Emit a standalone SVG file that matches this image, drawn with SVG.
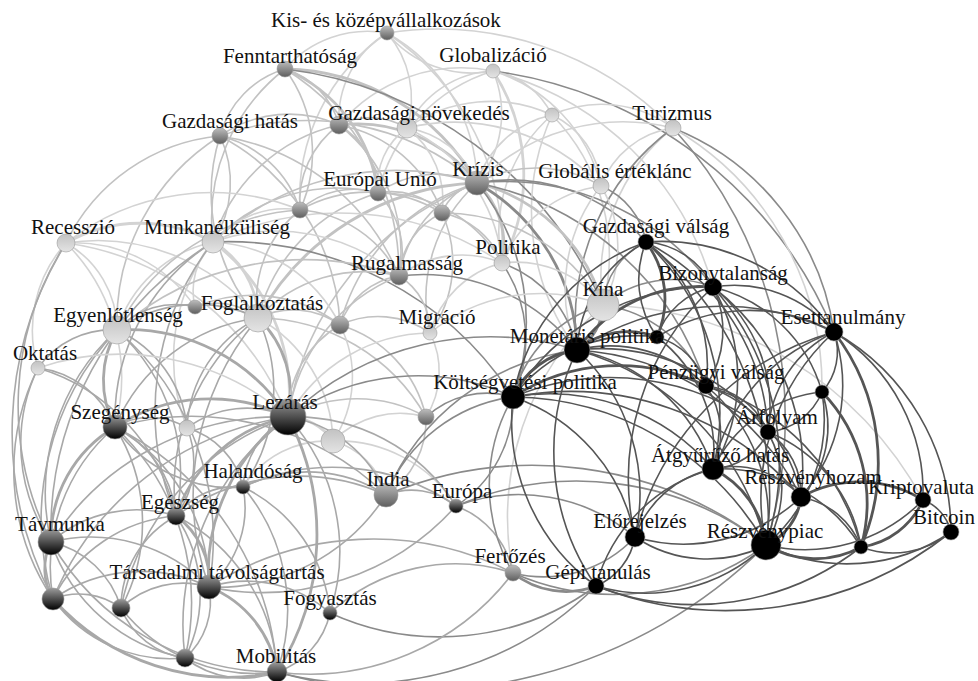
<svg xmlns="http://www.w3.org/2000/svg" width="978" height="681" viewBox="0 0 978 681">
<style>
.e path{fill:none;stroke-width:1.6}
.a{stroke:#d3d3d3}
.b{stroke:#c2c2c2}
.c{stroke:#a8a8a8}
.x{stroke:#8a8a8a}
.d{stroke:#555}
.t{stroke-width:2.8!important}
.n circle{stroke:#9a9a9a;stroke-width:0.6}
.lt{fill:url(#gl)}
.md{fill:url(#gm)}
.dk{fill:url(#gd)}
.bk{fill:#000}
text{font-family:"Liberation Serif","Times New Roman",serif;font-size:21px;fill:#111;text-anchor:middle}
</style>
<defs>
<linearGradient id="gl" x1="0" y1="0" x2="0" y2="1"><stop offset="0" stop-color="#c2c2c2"/><stop offset="1" stop-color="#e4e4e4"/></linearGradient>
<linearGradient id="gm" x1="0" y1="0" x2="0" y2="1"><stop offset="0" stop-color="#bdbdbd"/><stop offset="1" stop-color="#5e5e5e"/></linearGradient>
<linearGradient id="gd" x1="0" y1="0" x2="0" y2="1"><stop offset="0" stop-color="#9c9c9c"/><stop offset="1" stop-color="#000"/></linearGradient>
</defs>
<rect width="978" height="681" fill="#fff"/>
<g id="connectors" class="e">
<path class="a" d="M493 71A110 110 0 0 1 387 33"/>
<path class="a" d="M493 71A160 160 0 0 0 339 125"/>
<path class="a" d="M493 71A110 110 0 0 1 477 183"/>
<path class="a" d="M493 71A100 100 0 0 0 407 128"/>
<path class="a" d="M493 71A80 80 0 0 1 552 115"/>
<path class="a" d="M493 71A170 170 0 0 0 378 193"/>
<path class="a t" d="M493 71A190 190 0 0 1 502 263"/>
<path class="a" d="M493 71A160 160 0 0 1 601 186"/>
<path class="x" d="M493 71A430 430 0 0 1 834 332"/>
<path class="a" d="M493 71A310 310 0 0 1 713 287"/>
<path class="a" d="M387 33A110 110 0 0 0 285 69"/>
<path class="a" d="M387 33A100 100 0 0 1 407 128"/>
<path class="a" d="M387 33A175 175 0 0 1 477 183"/>
<path class="a" d="M387 33A100 100 0 0 0 339 125"/>
<path class="a" d="M387 33A200 200 0 0 0 300 210"/>
<path class="a" d="M387 33A260 260 0 0 1 502 263"/>
<path class="a" d="M387 33A330 330 0 0 1 673 128"/>
<path class="b" d="M285 69A95 95 0 0 0 220 136"/>
<path class="b" d="M285 69A80 80 0 0 1 339 125"/>
<path class="b t" d="M285 69A155 155 0 0 1 378 193"/>
<path class="b t" d="M285 69A225 225 0 0 1 477 183"/>
<path class="b" d="M285 69A190 190 0 0 0 213 242"/>
<path class="b" d="M285 69A140 140 0 0 1 300 210"/>
<path class="b" d="M285 69A240 240 0 0 1 399 276"/>
<path class="x" d="M285 69A400 400 0 0 1 603 305"/>
<path class="b" d="M220 136A120 120 0 0 1 339 125"/>
<path class="b" d="M220 136A110 110 0 0 1 213 242"/>
<path class="b" d="M220 136A110 110 0 0 1 300 210"/>
<path class="b" d="M220 136A230 230 0 0 1 399 276"/>
<path class="b" d="M220 136A190 190 0 0 0 258 318"/>
<path class="b" d="M220 136A220 220 0 0 0 117 330"/>
<path class="b" d="M220 136A260 260 0 0 1 477 183"/>
<path class="b" d="M220 136A225 225 0 0 1 340 325"/>
<path class="b" d="M220 136A190 190 0 0 0 66 243"/>
<path class="b" d="M339 125A80 80 0 0 1 378 193"/>
<path class="b t" d="M339 125A150 150 0 0 1 477 183"/>
<path class="b" d="M339 125A70 70 0 0 1 407 128"/>
<path class="b" d="M339 125A95 95 0 0 0 300 210"/>
<path class="b" d="M339 125A135 135 0 0 1 442 213"/>
<path class="b" d="M339 125A170 170 0 0 0 213 242"/>
<path class="b" d="M339 125A160 160 0 0 1 399 276"/>
<path class="a" d="M407 128A90 90 0 0 1 477 183"/>
<path class="a" d="M407 128A70 70 0 0 0 378 193"/>
<path class="a" d="M407 128A145 145 0 0 1 552 115"/>
<path class="a" d="M407 128A165 165 0 0 1 502 263"/>
<path class="a" d="M407 128A90 90 0 0 1 442 213"/>
<path class="a" d="M407 128A200 200 0 0 1 601 186"/>
<path class="a" d="M552 115A120 120 0 0 1 673 128"/>
<path class="a" d="M552 115A100 100 0 0 0 477 183"/>
<path class="a" d="M552 115A85 85 0 0 1 601 186"/>
<path class="a" d="M552 115A155 155 0 0 0 502 263"/>
<path class="a" d="M552 115A200 200 0 0 1 603 305"/>
<path class="a" d="M552 115A235 235 0 0 0 577 350"/>
<path class="a" d="M673 128A90 90 0 0 0 601 186"/>
<path class="a" d="M673 128A205 205 0 0 0 477 183"/>
<path class="a" d="M673 128A190 190 0 0 0 603 305"/>
<path class="x" d="M673 128A240 240 0 0 0 577 350"/>
<path class="x" d="M673 128A260 260 0 0 1 834 332"/>
<path class="x" d="M673 128A430 430 0 0 1 766 545"/>
<path class="a" d="M673 128A300 300 0 0 1 822 392"/>
<path class="b" d="M378 193A100 100 0 0 1 477 183"/>
<path class="b" d="M378 193A80 80 0 0 0 300 210"/>
<path class="b" d="M378 193A70 70 0 0 1 442 213"/>
<path class="b" d="M378 193A85 85 0 0 1 399 276"/>
<path class="b" d="M378 193A170 170 0 0 0 213 242"/>
<path class="b" d="M378 193A140 140 0 0 1 502 263"/>
<path class="b" d="M378 193A175 175 0 0 0 258 318"/>
<path class="b" d="M477 183A50 50 0 0 0 442 213"/>
<path class="b" d="M477 183A125 125 0 0 1 601 186"/>
<path class="b t" d="M477 183A85 85 0 0 1 502 263"/>
<path class="b t" d="M477 183A175 175 0 0 1 603 305"/>
<path class="b" d="M477 183A120 120 0 0 0 399 276"/>
<path class="b" d="M477 183A270 270 0 0 0 213 242"/>
<path class="b t" d="M477 183A260 260 0 0 0 258 318"/>
<path class="b" d="M477 183A200 200 0 0 0 340 325"/>
<path class="b" d="M477 183A155 155 0 0 0 430 333"/>
<path class="x" d="M477 183A180 180 0 0 1 646 242"/>
<path class="x" d="M477 183A260 260 0 0 1 713 287"/>
<path class="x t" d="M477 183A195 195 0 0 1 577 350"/>
<path class="x" d="M477 183A220 220 0 0 1 513 397"/>
<path class="b" d="M477 183A300 300 0 0 0 288 417"/>
<path class="x" d="M477 183A300 300 0 0 1 706 386"/>
<path class="a" d="M601 186A120 120 0 0 1 603 305"/>
<path class="a" d="M601 186A125 125 0 0 0 502 263"/>
<path class="x" d="M601 186A75 75 0 0 1 646 242"/>
<path class="a" d="M601 186A165 165 0 0 0 577 350"/>
<path class="a t" d="M66 243A150 150 0 0 1 213 242"/>
<path class="a" d="M66 243A100 100 0 0 1 117 330"/>
<path class="a" d="M66 243A130 130 0 0 0 38 368"/>
<path class="a" d="M66 243A190 190 0 0 1 115 427"/>
<path class="c" d="M66 243A300 300 0 0 0 51 542"/>
<path class="a" d="M66 243A205 205 0 0 1 258 318"/>
<path class="a" d="M66 243A145 145 0 0 1 195 307"/>
<path class="c" d="M66 243A360 360 0 0 0 53 599"/>
<path class="a" d="M66 243A235 235 0 0 1 300 210"/>
<path class="a" d="M66 243A280 280 0 0 1 288 417"/>
<path class="a" d="M213 242A130 130 0 0 0 117 330"/>
<path class="a t" d="M213 242A90 90 0 0 1 258 318"/>
<path class="a" d="M213 242A95 95 0 0 1 300 210"/>
<path class="a" d="M213 242A190 190 0 0 1 399 276"/>
<path class="a" d="M213 242A70 70 0 0 0 195 307"/>
<path class="c" d="M213 242A210 210 0 0 0 115 427"/>
<path class="a t" d="M213 242A190 190 0 0 1 288 417"/>
<path class="a" d="M213 242A190 190 0 0 0 187 428"/>
<path class="a" d="M213 242A150 150 0 0 1 340 325"/>
<path class="c" d="M213 242A275 275 0 0 0 176 516"/>
<path class="c" d="M213 242A340 340 0 0 0 51 542"/>
<path class="a" d="M213 242A290 290 0 0 1 502 263"/>
<path class="x" d="M213 242A340 340 0 0 1 513 397"/>
<path class="b" d="M300 210A140 140 0 0 1 442 213"/>
<path class="b" d="M300 210A120 120 0 0 1 399 276"/>
<path class="b" d="M300 210A115 115 0 0 0 258 318"/>
<path class="b" d="M300 210A220 220 0 0 0 117 330"/>
<path class="b" d="M442 213A80 80 0 0 1 502 263"/>
<path class="b" d="M442 213A75 75 0 0 0 399 276"/>
<path class="b" d="M442 213A120 120 0 0 1 430 333"/>
<path class="b" d="M442 213A185 185 0 0 1 603 305"/>
<path class="a" d="M502 263A105 105 0 0 0 399 276"/>
<path class="a" d="M502 263A110 110 0 0 1 603 305"/>
<path class="a" d="M502 263A100 100 0 0 0 430 333"/>
<path class="x" d="M502 263A115 115 0 0 1 577 350"/>
<path class="x" d="M502 263A135 135 0 0 1 513 397"/>
<path class="b" d="M399 276A145 145 0 0 0 258 318"/>
<path class="b" d="M399 276A65 65 0 0 1 430 333"/>
<path class="b" d="M399 276A75 75 0 0 0 340 325"/>
<path class="b" d="M399 276A180 180 0 0 0 288 417"/>
<path class="x" d="M399 276A195 195 0 0 1 577 350"/>
<path class="b" d="M399 276A285 285 0 0 0 117 330"/>
<path class="x t" d="M603 305A55 55 0 0 1 577 350"/>
<path class="x" d="M603 305A75 75 0 0 1 646 242"/>
<path class="x" d="M603 305A110 110 0 0 1 713 287"/>
<path class="a" d="M603 305A175 175 0 0 0 430 333"/>
<path class="x" d="M603 305A130 130 0 0 0 513 397"/>
<path class="x" d="M603 305A130 130 0 0 1 706 386"/>
<path class="a" d="M603 305A375 375 0 0 1 923 500"/>
<path class="a" d="M603 305A285 285 0 0 0 513 573"/>
<path class="c" d="M117 330A140 140 0 0 1 258 318"/>
<path class="c" d="M117 330A90 90 0 0 0 38 368"/>
<path class="c t" d="M117 330A100 100 0 0 0 115 427"/>
<path class="c t" d="M117 330A190 190 0 0 1 288 417"/>
<path class="c" d="M117 330A120 120 0 0 1 187 428"/>
<path class="c" d="M117 330A80 80 0 0 1 195 307"/>
<path class="c" d="M117 330A220 220 0 0 0 51 542"/>
<path class="c" d="M117 330A195 195 0 0 1 176 516"/>
<path class="c" d="M117 330A275 275 0 0 0 53 599"/>
<path class="c" d="M117 330A275 275 0 0 1 209 587"/>
<path class="b" d="M258 318A65 65 0 0 0 195 307"/>
<path class="b" d="M258 318A80 80 0 0 1 340 325"/>
<path class="c t" d="M258 318A105 105 0 0 1 288 417"/>
<path class="c" d="M258 318A130 130 0 0 0 187 428"/>
<path class="a" d="M258 318A145 145 0 0 1 333 441"/>
<path class="c" d="M258 318A180 180 0 0 0 115 427"/>
<path class="b" d="M258 318A195 195 0 0 1 426 417"/>
<path class="c" d="M258 318A215 215 0 0 0 176 516"/>
<path class="c" d="M258 318A170 170 0 0 1 243 487"/>
<path class="c" d="M258 318A275 275 0 0 0 209 587"/>
<path class="b" d="M195 307A145 145 0 0 1 340 325"/>
<path class="b" d="M340 325A90 90 0 0 1 430 333"/>
<path class="b" d="M340 325A105 105 0 0 0 288 417"/>
<path class="a" d="M340 325A115 115 0 0 1 333 441"/>
<path class="b" d="M340 325A125 125 0 0 1 426 417"/>
<path class="a" d="M430 333A85 85 0 0 1 426 417"/>
<path class="a" d="M430 333A165 165 0 0 0 288 417"/>
<path class="c" d="M38 368A95 95 0 0 1 115 427"/>
<path class="c" d="M38 368A175 175 0 0 0 51 542"/>
<path class="c" d="M38 368A230 230 0 0 0 53 599"/>
<path class="a" d="M38 368A255 255 0 0 1 288 417"/>
<path class="c" d="M38 368A200 200 0 0 1 176 516"/>
<path class="a t" d="M333 441A55 55 0 0 0 288 417"/>
<path class="a" d="M333 441A95 95 0 0 1 426 417"/>
<path class="a" d="M333 441A75 75 0 0 1 386 495"/>
<path class="a" d="M333 441A140 140 0 0 1 456 506"/>
<path class="a" d="M333 441A100 100 0 0 0 243 487"/>
<path class="c" d="M187 428A100 100 0 0 1 288 417"/>
<path class="c" d="M187 428A70 70 0 0 0 115 427"/>
<path class="c" d="M187 428A90 90 0 0 1 176 516"/>
<path class="c" d="M187 428A80 80 0 0 1 243 487"/>
<path class="b" d="M426 417A140 140 0 0 0 288 417"/>
<path class="b" d="M426 417A90 90 0 0 1 386 495"/>
<path class="x" d="M426 417A90 90 0 0 1 513 397"/>
<path class="c" d="M386 495A125 125 0 0 0 288 417"/>
<path class="c" d="M386 495A70 70 0 0 1 456 506"/>
<path class="c" d="M386 495A145 145 0 0 0 243 487"/>
<path class="c" d="M386 495A210 210 0 0 0 176 516"/>
<path class="c" d="M386 495A200 200 0 0 1 209 587"/>
<path class="x" d="M386 495A160 160 0 0 1 513 397"/>
<path class="x" d="M386 495A240 240 0 0 1 577 350"/>
<path class="x" d="M386 495A380 380 0 0 1 766 545"/>
<path class="c" d="M386 495A280 280 0 0 0 115 427"/>
<path class="c t" d="M288 417A175 175 0 0 0 115 427"/>
<path class="c" d="M288 417A85 85 0 0 0 243 487"/>
<path class="c" d="M288 417A190 190 0 0 1 456 506"/>
<path class="c t" d="M288 417A150 150 0 0 0 176 516"/>
<path class="c" d="M288 417A270 270 0 0 0 51 542"/>
<path class="c t" d="M288 417A190 190 0 0 0 209 587"/>
<path class="c" d="M288 417A300 300 0 0 0 53 599"/>
<path class="c" d="M288 417A255 255 0 0 0 121 608"/>
<path class="c" d="M288 417A200 200 0 0 1 330 613"/>
<path class="c" d="M288 417A260 260 0 0 0 185 658"/>
<path class="c t" d="M288 417A255 255 0 0 1 277 672"/>
<path class="x" d="M288 417A225 225 0 0 1 513 397"/>
<path class="x" d="M288 417A295 295 0 0 1 577 350"/>
<path class="c" d="M115 427A140 140 0 0 0 243 487"/>
<path class="c" d="M115 427A110 110 0 0 1 176 516"/>
<path class="c t" d="M115 427A130 130 0 0 0 51 542"/>
<path class="c" d="M115 427A185 185 0 0 1 209 587"/>
<path class="c" d="M115 427A185 185 0 0 0 53 599"/>
<path class="c" d="M115 427A180 180 0 0 1 121 608"/>
<path class="c" d="M115 427A240 240 0 0 1 185 658"/>
<path class="c" d="M115 427A295 295 0 0 1 277 672"/>
<path class="c" d="M243 487A75 75 0 0 0 176 516"/>
<path class="c" d="M243 487A105 105 0 0 1 209 587"/>
<path class="c" d="M243 487A215 215 0 0 1 456 506"/>
<path class="c" d="M243 487A190 190 0 0 1 277 672"/>
<path class="c" d="M243 487A155 155 0 0 1 330 613"/>
<path class="c" d="M456 506A90 90 0 0 1 513 573"/>
<path class="x" d="M456 506A125 125 0 0 0 513 397"/>
<path class="c" d="M456 506A260 260 0 0 1 209 587"/>
<path class="x" d="M456 506A310 310 0 0 1 766 545"/>
<path class="x" d="M456 506A180 180 0 0 1 635 537"/>
<path class="c" d="M176 516A130 130 0 0 0 51 542"/>
<path class="c t" d="M176 516A80 80 0 0 1 209 587"/>
<path class="c" d="M176 516A150 150 0 0 0 53 599"/>
<path class="c" d="M176 516A105 105 0 0 0 121 608"/>
<path class="c" d="M176 516A140 140 0 0 1 185 658"/>
<path class="c" d="M176 516A185 185 0 0 1 277 672"/>
<path class="c" d="M51 542A165 165 0 0 1 209 587"/>
<path class="c t" d="M51 542A60 60 0 0 0 53 599"/>
<path class="c" d="M51 542A95 95 0 0 1 121 608"/>
<path class="c" d="M51 542A175 175 0 0 0 185 658"/>
<path class="c" d="M51 542A260 260 0 0 0 277 672"/>
<path class="c" d="M209 587A155 155 0 0 0 53 599"/>
<path class="c" d="M209 587A90 90 0 0 0 121 608"/>
<path class="c" d="M209 587A125 125 0 0 1 330 613"/>
<path class="c" d="M209 587A75 75 0 0 1 185 658"/>
<path class="c t" d="M209 587A110 110 0 0 1 277 672"/>
<path class="c" d="M209 587A305 305 0 0 1 513 573"/>
<path class="c" d="M53 599A70 70 0 0 1 121 608"/>
<path class="c" d="M53 599A145 145 0 0 0 185 658"/>
<path class="c t" d="M53 599A235 235 0 0 0 277 672"/>
<path class="c" d="M121 608A80 80 0 0 0 185 658"/>
<path class="c" d="M121 608A170 170 0 0 0 277 672"/>
<path class="c" d="M330 613A80 80 0 0 1 277 672"/>
<path class="c" d="M330 613A185 185 0 0 1 513 573"/>
<path class="x" d="M330 613A265 265 0 0 0 596 586"/>
<path class="c" d="M185 658A95 95 0 0 0 277 672"/>
<path class="x" d="M277 672A330 330 0 0 0 596 586"/>
<path class="c" d="M277 672A255 255 0 0 0 513 573"/>
<path class="x" d="M277 672A500 500 0 0 0 766 545"/>
<path class="x" d="M513 573A255 255 0 0 0 766 545"/>
<path class="x" d="M513 573A175 175 0 0 1 513 397"/>
<path class="x" d="M513 573A125 125 0 0 0 635 537"/>
<path class="x t" d="M513 573A85 85 0 0 0 596 586"/>
<path class="d" d="M646 242A80 80 0 0 1 713 287"/>
<path class="d" d="M646 242A130 130 0 0 0 577 350"/>
<path class="d t" d="M646 242A95 95 0 0 1 657 337"/>
<path class="d" d="M646 242A100 100 0 0 0 657 337"/>
<path class="d" d="M646 242A205 205 0 0 0 513 397"/>
<path class="d" d="M646 242A155 155 0 0 1 706 386"/>
<path class="d" d="M646 242A235 235 0 0 1 713 469"/>
<path class="d" d="M646 242A325 325 0 0 1 766 545"/>
<path class="d" d="M646 242A210 210 0 0 1 834 332"/>
<path class="d" d="M646 242A225 225 0 0 1 768 432"/>
<path class="d" d="M713 287A130 130 0 0 1 834 332"/>
<path class="d t" d="M713 287A150 150 0 0 0 577 350"/>
<path class="d" d="M713 287A75 75 0 0 0 657 337"/>
<path class="d" d="M713 287A230 230 0 0 0 513 397"/>
<path class="d" d="M713 287A100 100 0 0 1 706 386"/>
<path class="d" d="M713 287A155 155 0 0 1 768 432"/>
<path class="d" d="M713 287A180 180 0 0 1 713 469"/>
<path class="d" d="M713 287A230 230 0 0 1 801 497"/>
<path class="d" d="M713 287A265 265 0 0 1 766 545"/>
<path class="d" d="M713 287A260 260 0 0 0 635 537"/>
<path class="d" d="M713 287A150 150 0 0 1 822 392"/>
<path class="d" d="M834 332A60 60 0 0 1 822 392"/>
<path class="d" d="M834 332A120 120 0 0 0 768 432"/>
<path class="d" d="M834 332A185 185 0 0 0 713 469"/>
<path class="d" d="M834 332A170 170 0 0 1 801 497"/>
<path class="d" d="M834 332A225 225 0 0 0 766 545"/>
<path class="d t" d="M834 332A215 215 0 0 1 861 547"/>
<path class="d" d="M834 332A190 190 0 0 1 923 500"/>
<path class="d" d="M834 332A230 230 0 0 1 951 532"/>
<path class="d" d="M834 332A175 175 0 0 0 657 337"/>
<path class="d" d="M834 332A285 285 0 0 0 635 537"/>
<path class="d" d="M834 332A260 260 0 0 0 577 350"/>
<path class="d t" d="M577 350A80 80 0 0 1 657 337"/>
<path class="d t" d="M577 350A80 80 0 0 0 513 397"/>
<path class="d" d="M577 350A135 135 0 0 1 706 386"/>
<path class="d" d="M577 350A210 210 0 0 1 768 432"/>
<path class="d" d="M577 350A180 180 0 0 1 713 469"/>
<path class="d" d="M577 350A270 270 0 0 1 766 545"/>
<path class="d" d="M577 350A195 195 0 0 1 635 537"/>
<path class="d" d="M577 350A270 270 0 0 1 801 497"/>
<path class="d" d="M577 350A235 235 0 0 0 596 586"/>
<path class="d" d="M657 337A155 155 0 0 0 513 397"/>
<path class="d" d="M657 337A70 70 0 0 1 706 386"/>
<path class="d" d="M657 337A145 145 0 0 1 713 469"/>
<path class="d t" d="M513 397A195 195 0 0 1 706 386"/>
<path class="d" d="M513 397A215 215 0 0 1 713 469"/>
<path class="d" d="M513 397A295 295 0 0 1 766 545"/>
<path class="d" d="M513 397A185 185 0 0 1 635 537"/>
<path class="d" d="M513 397A205 205 0 0 0 596 586"/>
<path class="d" d="M513 397A255 255 0 0 1 768 432"/>
<path class="d" d="M513 397A305 305 0 0 1 801 497"/>
<path class="d" d="M706 386A75 75 0 0 1 768 432"/>
<path class="d" d="M706 386A85 85 0 0 1 713 469"/>
<path class="d" d="M706 386A170 170 0 0 1 766 545"/>
<path class="d" d="M706 386A145 145 0 0 1 801 497"/>
<path class="d" d="M706 386A225 225 0 0 1 861 547"/>
<path class="d" d="M822 392A65 65 0 0 1 768 432"/>
<path class="d" d="M822 392A105 105 0 0 1 801 497"/>
<path class="d t" d="M822 392A160 160 0 0 1 861 547"/>
<path class="d" d="M822 392A165 165 0 0 1 766 545"/>
<path class="d" d="M822 392A135 135 0 0 0 713 469"/>
<path class="d" d="M768 432A65 65 0 0 1 713 469"/>
<path class="d" d="M768 432A75 75 0 0 1 801 497"/>
<path class="d" d="M768 432A115 115 0 0 1 766 545"/>
<path class="d" d="M768 432A150 150 0 0 1 861 547"/>
<path class="d t" d="M713 469A95 95 0 0 1 766 545"/>
<path class="d" d="M713 469A105 105 0 0 0 635 537"/>
<path class="d" d="M713 469A165 165 0 0 0 596 586"/>
<path class="d" d="M713 469A90 90 0 0 1 801 497"/>
<path class="d" d="M713 469A165 165 0 0 1 861 547"/>
<path class="d" d="M801 497A80 80 0 0 1 861 547"/>
<path class="d t" d="M801 497A60 60 0 0 1 766 545"/>
<path class="d t" d="M801 497A120 120 0 0 1 923 500"/>
<path class="d" d="M923 500A45 45 0 0 1 951 532"/>
<path class="d t" d="M923 500A80 80 0 0 1 861 547"/>
<path class="d" d="M923 500A165 165 0 0 1 766 545"/>
<path class="d" d="M951 532A90 90 0 0 1 861 547"/>
<path class="d" d="M951 532A185 185 0 0 1 766 545"/>
<path class="d" d="M951 532A360 360 0 0 1 596 586"/>
<path class="d t" d="M861 547A95 95 0 0 1 766 545"/>
<path class="d" d="M766 545A130 130 0 0 1 635 537"/>
<path class="d" d="M766 545A175 175 0 0 1 596 586"/>
<path class="d" d="M635 537A65 65 0 0 1 596 586"/>
<path class="d" d="M635 537A170 170 0 0 0 801 497"/>
<path class="d" d="M596 586A270 270 0 0 0 861 547"/>
</g>
<g class="n">
<g id="n-globalizacio"><circle class="lt" cx="493" cy="71" r="7"/></g>
<g id="n-gazd-novekedes"><circle class="lt" cx="407" cy="128" r="10"/></g>
<g id="n-u1"><circle class="lt" cx="552" cy="115" r="7"/></g>
<g id="n-turizmus"><circle class="lt" cx="673" cy="128" r="8"/></g>
<g id="n-glob-ertekl"><circle class="lt" cx="601" cy="186" r="8"/></g>
<g id="n-recesszio"><circle class="lt" cx="66" cy="243" r="9"/></g>
<g id="n-munkanelk"><circle class="lt" cx="213" cy="242" r="11"/></g>
<g id="n-politika"><circle class="lt" cx="502" cy="263" r="8"/></g>
<g id="n-kina"><circle class="lt" cx="603" cy="305" r="16"/></g>
<g id="n-egyenlotl"><circle class="lt" cx="117" cy="330" r="14"/></g>
<g id="n-foglalk"><circle class="lt" cx="258" cy="318" r="14"/></g>
<g id="n-migracio"><circle class="lt" cx="430" cy="333" r="7"/></g>
<g id="n-oktatas"><circle class="lt" cx="38" cy="368" r="7"/></g>
<g id="n-u2"><circle class="lt" cx="333" cy="441" r="12"/></g>
<g id="n-u3"><circle class="lt" cx="187" cy="428" r="8"/></g>
<g id="n-kkv"><circle class="md" cx="387" cy="33" r="7"/></g>
<g id="n-fenntarth"><circle class="md" cx="285" cy="69" r="8"/></g>
<g id="n-gazd-hatas"><circle class="md" cx="220" cy="136" r="8"/></g>
<g id="n-u4"><circle class="md" cx="339" cy="125" r="9"/></g>
<g id="n-eu"><circle class="md" cx="378" cy="193" r="8"/></g>
<g id="n-krizis"><circle class="md" cx="477" cy="183" r="12"/></g>
<g id="n-u5"><circle class="md" cx="300" cy="210" r="8"/></g>
<g id="n-u6"><circle class="md" cx="442" cy="213" r="8"/></g>
<g id="n-rugalmassag"><circle class="md" cx="399" cy="276" r="9"/></g>
<g id="n-u7"><circle class="md" cx="195" cy="307" r="7"/></g>
<g id="n-u8"><circle class="md" cx="340" cy="325" r="9"/></g>
<g id="n-u9"><circle class="md" cx="426" cy="417" r="8"/></g>
<g id="n-india"><circle class="md" cx="386" cy="495" r="12"/></g>
<g id="n-lezaras"><circle class="dk" cx="288" cy="417" r="18"/></g>
<g id="n-szegenyseg"><circle class="dk" cx="115" cy="427" r="12"/></g>
<g id="n-halandosag"><circle class="dk" cx="243" cy="487" r="7"/></g>
<g id="n-europa"><circle class="dk" cx="456" cy="506" r="7"/></g>
<g id="n-egeszseg"><circle class="dk" cx="176" cy="516" r="9"/></g>
<g id="n-tavmunka"><circle class="dk" cx="51" cy="542" r="13"/></g>
<g id="n-tars-tav"><circle class="dk" cx="209" cy="587" r="12"/></g>
<g id="n-u10"><circle class="dk" cx="53" cy="599" r="11"/></g>
<g id="n-u11"><circle class="dk" cx="121" cy="608" r="9"/></g>
<g id="n-fogyasztas"><circle class="dk" cx="330" cy="613" r="7"/></g>
<g id="n-u12"><circle class="dk" cx="185" cy="658" r="9"/></g>
<g id="n-mobilitas"><circle class="dk" cx="277" cy="672" r="10"/></g>
<g id="n-fertozes"><circle class="md" cx="513" cy="573" r="8"/></g>
<g id="n-gazd-valsag"><circle class="bk" cx="646" cy="242" r="8"/></g>
<g id="n-bizonytal"><circle class="bk" cx="713" cy="287" r="9"/></g>
<g id="n-esettan"><circle class="bk" cx="834" cy="332" r="9"/></g>
<g id="n-monetaris"><circle class="bk" cx="577" cy="350" r="13"/></g>
<g id="n-u13"><circle class="bk" cx="657" cy="337" r="7"/></g>
<g id="n-koltsegv"><circle class="bk" cx="513" cy="397" r="12"/></g>
<g id="n-penzugyi"><circle class="bk" cx="706" cy="386" r="8"/></g>
<g id="n-u14"><circle class="bk" cx="822" cy="392" r="7"/></g>
<g id="n-arfolyam"><circle class="bk" cx="768" cy="432" r="8"/></g>
<g id="n-atgyuruzo"><circle class="bk" cx="713" cy="469" r="11"/></g>
<g id="n-reszvenyhozam"><circle class="bk" cx="801" cy="497" r="10"/></g>
<g id="n-kripto"><circle class="bk" cx="923" cy="500" r="8"/></g>
<g id="n-bitcoin"><circle class="bk" cx="951" cy="532" r="8"/></g>
<g id="n-u15"><circle class="bk" cx="861" cy="547" r="7"/></g>
<g id="n-reszvenypiac"><circle class="bk" cx="766" cy="545" r="15"/></g>
<g id="n-elorejelzes"><circle class="bk" cx="635" cy="537" r="10"/></g>
<g id="n-gepi"><circle class="bk" cx="596" cy="586" r="8"/></g>
</g>
<g id="labels">
<text x="386" y="27">Kis- és középvállalkozások</text>
<text x="290" y="63">Fenntarthatóság</text>
<text x="493" y="62">Globalizáció</text>
<text x="230" y="128">Gazdasági hatás</text>
<text x="419" y="120">Gazdasági növekedés</text>
<text x="672" y="120">Turizmus</text>
<text x="380" y="186">Európai Unió</text>
<text x="478" y="176">Krízis</text>
<text x="615" y="178">Globális értéklánc</text>
<text x="73" y="234">Recesszió</text>
<text x="217" y="234">Munkanélküliség</text>
<text x="656" y="233">Gazdasági válság</text>
<text x="508" y="254">Politika</text>
<text x="407" y="270">Rugalmasság</text>
<text x="603" y="296">Kína</text>
<text x="723" y="280">Bizonytalanság</text>
<text x="118" y="322">Egyenlőtlenség</text>
<text x="262" y="310">Foglalkoztatás</text>
<text x="843" y="324">Esettanulmány</text>
<text x="437" y="324">Migráció</text>
<text x="587" y="343">Monetáris politika</text>
<text x="45" y="360">Oktatás</text>
<text x="525" y="389">Költségvetési politika</text>
<text x="716" y="379">Pénzügyi válság</text>
<text x="285" y="409">Lezárás</text>
<text x="120" y="419">Szegénység</text>
<text x="777" y="424">Árfolyam</text>
<text x="720" y="462">Átgyűrűző hatás</text>
<text x="253" y="478">Halandóság</text>
<text x="388" y="486">India</text>
<text x="813" y="484">Részvényhozam</text>
<text x="921" y="494">Kriptovaluta</text>
<text x="462" y="498">Európa</text>
<text x="180" y="509">Egészség</text>
<text x="640" y="528">Előrejelzés</text>
<text x="944" y="524">Bitcoin</text>
<text x="765" y="538">Részvénypiac</text>
<text x="60" y="531">Távmunka</text>
<text x="510" y="563">Fertőzés</text>
<text x="598" y="579">Gépi tanulás</text>
<text x="217" y="579">Társadalmi távolságtartás</text>
<text x="330" y="605">Fogyasztás</text>
<text x="276" y="663">Mobilitás</text>
</g>
</svg>
